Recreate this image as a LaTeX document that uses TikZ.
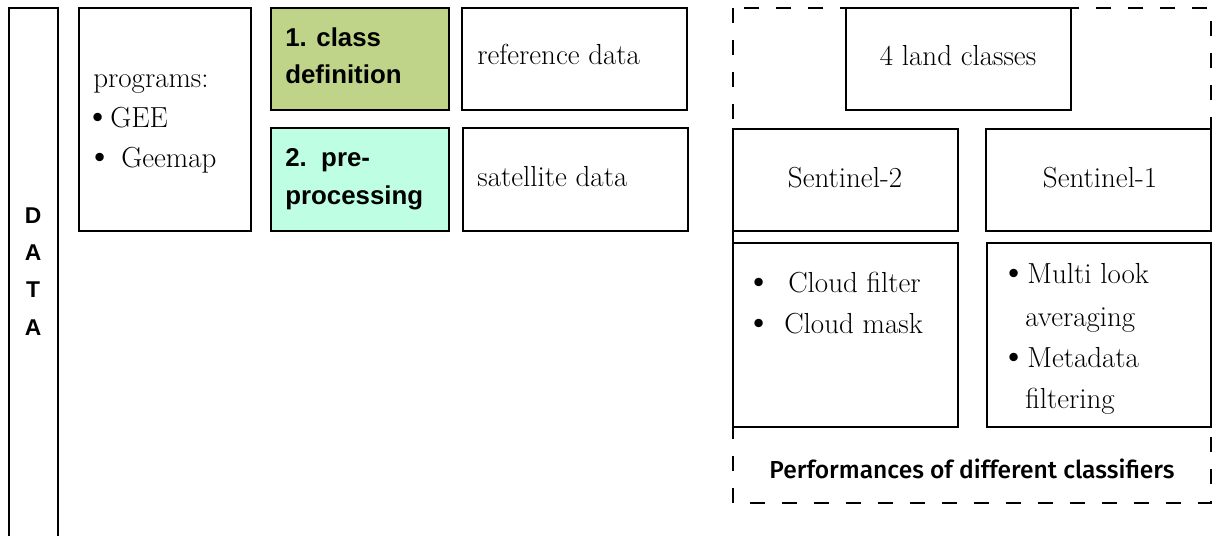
\documentclass[tikz,border=0pt]{standalone}
\usepackage{fontspec}
\newfontfamily\helv{Liberation Sans}
\newfontfamily\perffont{Fira Sans Medium}
\definecolor{classgreen}{RGB}{191,212,137}
\definecolor{prepmint}{RGB}{190,255,228}
\newcommand{\blt}[1]{\makebox[#1][l]{\scalebox{1.3}{\textbullet}}}
\tikzset{
  box/.style={draw, line width=1.6pt, fill=white},
  txt/.style={inner sep=0, anchor=base west, font=\fontsize{16.5}{19}\selectfont},
  ctxt/.style={inner sep=0, anchor=base, font=\fontsize{16.5}{19}\selectfont},
  hd/.style={inner sep=0, anchor=base west, font=\helv\bfseries\fontsize{14.7}{17}\selectfont},
  letter/.style={inner sep=0, anchor=base, font=\helv\bfseries\fontsize{13}{15}\selectfont},
}
\begin{document}
\begin{tikzpicture}[x=0.02cm, y=-0.02cm]
  \useasboundingbox (0,0) rectangle (1212,535);
  % frame of the right part
  \draw[line width=1.5pt, dash pattern=on 0.3cm off 0.34cm] (733,8) rectangle (1211,503);
  % data column, open at the bottom
  \draw[line width=1.5pt] (9,540) -- (9,8) -- (58,8) -- (58,540);
  \node[letter] (d1) at (33,223) {D};
  \node[letter] (d2) at (33,260) {A};
  \node[letter] (d3) at (33,297) {T};
  \node[letter] (d4) at (33,335) {A};
  % boxes
  \draw[box] (79,8) rectangle (251,231);
  \draw[box, fill=classgreen] (271,8) rectangle (449,110);
  \draw[box, fill=prepmint] (271,128) rectangle (449,231);
  \draw[box] (462,8) rectangle (687,110);
  \draw[box] (463,128) rectangle (688,231);
  \draw[box] (846,8) rectangle (1071,110);
  \draw[box] (733,129) rectangle (958,231);
  \draw[box] (986,129) rectangle (1211,231);
  \draw[box] (733,243) rectangle (958,427);
  \draw[box] (987,243) rectangle (1211,427);
  % texts
  \node[txt] (prog) at (93,87) {programs:};
  \node[txt] (gee) at (84,127) {\blt{0.52cm}GEE};
  \node[txt] (geemap) at (86,167) {\blt{0.7cm}Geemap};
  \node[hd] (cls1) at (285,46) {1. class};
  \node[hd] (cls2) at (285,83) {definition};
  \node[hd] (pre1) at (285,166) {2.\ \ pre-};
  \node[hd] (pre2) at (285,204) {processing};
  \node[txt] (ref) at (477,64) {reference data};
  \node[txt] (sat) at (477,186) {satellite data};
  \node[ctxt] (land) at (958,65) {4 land classes};
  \node[ctxt] (s2) at (845,187) {Sentinel-2};
  \node[ctxt] (s1) at (1100,187) {Sentinel-1};
  \node[txt] (cf) at (745,292) {\blt{0.86cm}Cloud filter};
  \node[txt] (cm) at (745,333) {\blt{0.78cm}Cloud mask};
  \node[txt] (ml1) at (1000,283) {\blt{0.54cm}Multi look};
  \node[txt] (ml2) at (1025,326) {averaging};
  \node[txt] (md1) at (1000,367) {\blt{0.54cm}Metadata};
  \node[txt] (md2) at (1025,408) {filtering};
  \node[inner sep=0, anchor=base, font=\perffont\fontsize{14}{17}\selectfont] (perf) at (972,478) {Performances of different classifiers};
\end{tikzpicture}
\end{document}
